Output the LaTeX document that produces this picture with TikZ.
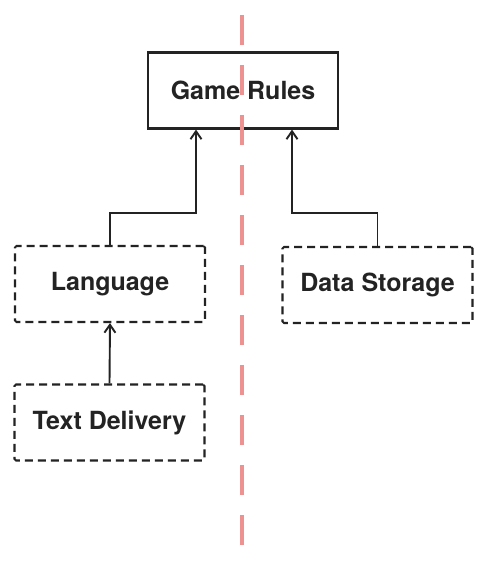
\documentclass[tikz,border=0pt]{standalone}
\usepackage{fontspec}
\setmainfont{TeX Gyre Heros}
\definecolor{SplitRed}{RGB}{238,145,145}
\definecolor{BoxGray}{RGB}{35,35,35}
\usetikzlibrary{arrows.meta, positioning}

\tikzset{
  module/.style={draw=BoxGray, line width=2.1pt, minimum width=190pt, minimum height=76pt,
    inner sep=0pt, align=center, text=BoxGray, font=\fontsize{25}{29}\selectfont\bfseries},
  optmodule/.style={module, dash pattern=on 8pt off 5pt, rounded corners=1.5pt},
  uses/.style={draw=BoxGray, line width=1.9pt, -{Straight Barb[length=8pt,width=11pt]}},
  split/.style={draw=SplitRed, line width=4pt, dash pattern=on 30pt off 20pt}
}

\begin{document}
\begin{tikzpicture}[x=1pt, y=-1pt]
  \useasboundingbox[fill=white] (0,0) rectangle (494,567);

  % core module
  \node[module] (rules) at (243,90.5) {Game Rules};

  % modules that can be swapped out
  \node[optmodule] (lang) at (110,284) {Language};
  \node[optmodule] (store) at (377.5,285) {Data Storage};
  \node[optmodule] (delivery) at (109.5,422.5) {Text Delivery};

  % bends of the connectors
  \coordinate (jl) at (196,213);
  \coordinate (jr) at (292,213);

  \draw[uses] (lang.north) |- (jl) -- (jl |- rules.south);
  \draw[uses] (store.north) |- (jr) -- (jr |- rules.south);
  \draw[uses] (delivery.north) -- (lang.south);

  % dividing line
  \draw[split] (242,15) -- (242,550);
\end{tikzpicture}
\end{document}
